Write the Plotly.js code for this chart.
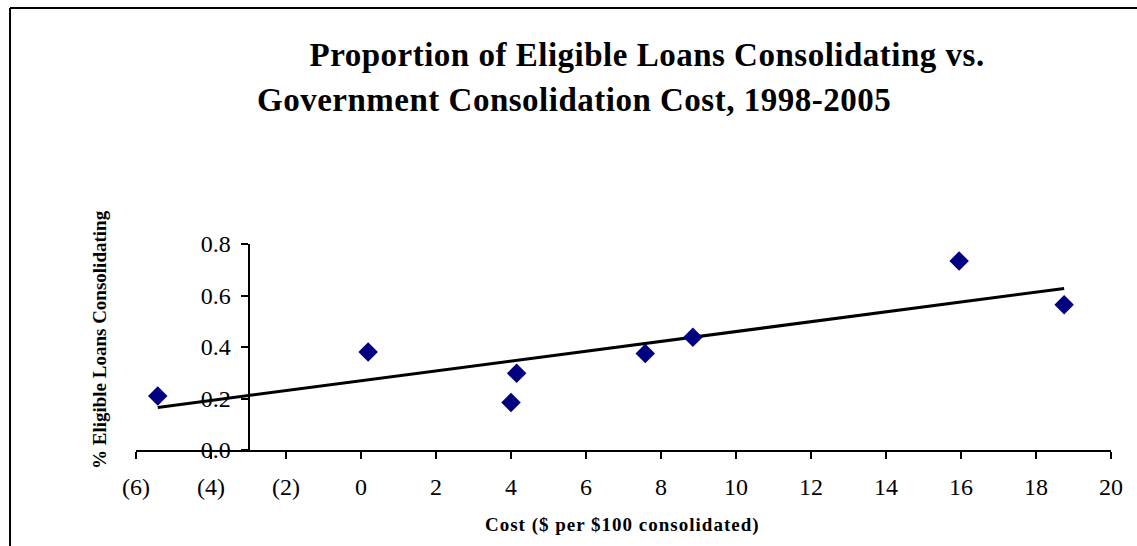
<!DOCTYPE html>
<html>
<head>
<meta charset="utf-8">
<script src="https://cdn.plot.ly/plotly-3.0.1.min.js"></script>
<style>
html,body{margin:0;padding:0;background:#fff;}
#chart{width:1137px;height:546px;}
g.annotation[data-index="0"] text, g.annotation[data-index="1"] text {letter-spacing:0.5px;}
g.annotation[data-index="2"] text {letter-spacing:1px;}
</style>
</head>
<body>
<div id="chart"></div>
<script>
// Data
const costPer100 = [-5.42, 0.19, 4.00, 4.15, 7.58, 8.85, 15.95, 18.75];
const shareConsolidating = [0.21, 0.381, 0.184, 0.298, 0.375, 0.438, 0.734, 0.564];
const xTickVals = [-6, -4, -2, 0, 2, 4, 6, 8, 10, 12, 14, 16, 18, 20];
const xTickText = ["(6)", "(4)", "(2)", "0", "2", "4", "6", "8", "10", "12", "14", "16", "18", "20"];
const yTickVals = [0, 0.2, 0.4, 0.6, 0.8];
const yTickText = ["0.0", "0.2", "0.4", "0.6", "0.8"];
const titleLine1 = "Proportion of Eligible Loans Consolidating vs.";
const titleLine2 = "Government Consolidation Cost, 1998-2005";
const xTitle = "Cost ($ per $100 consolidated)";
const yTitle = "% Eligible Loans Consolidating";

// Linear trend (least squares) from the data
const n = costPer100.length;
const mx = costPer100.reduce((a, b) => a + b, 0) / n;
const my = shareConsolidating.reduce((a, b) => a + b, 0) / n;
let sxy = 0, sxx = 0;
for (let i = 0; i < n; i++) {
  sxy += (costPer100[i] - mx) * (shareConsolidating[i] - my);
  sxx += (costPer100[i] - mx) * (costPer100[i] - mx);
}
const slope = sxy / sxx;
const intercept = my - slope * mx;
const xMin = Math.min(...costPer100), xMax = Math.max(...costPer100);
const trendX = [xMin, xMax];
const trendY = trendX.map(v => intercept + slope * v);

const font = "Liberation Serif, Times New Roman, serif";

const traces = [
  {
    x: trendX, y: trendY, type: "scatter", mode: "lines",
    line: {color: "#000000", width: 3}, hoverinfo: "skip", showlegend: false
  },
  {
    x: costPer100, y: shareConsolidating, type: "scatter", mode: "markers",
    marker: {symbol: "diamond", size: 15, color: "#000080"}, showlegend: false
  }
];

const layout = {
  width: 1137, height: 546,
  margin: {l: 136, r: 26, t: 244, b: 96},
  paper_bgcolor: "#ffffff", plot_bgcolor: "#ffffff",
  font: {family: font, color: "#000000"},
  showlegend: false,
  xaxis: {
    range: [-6, 20], tickvals: xTickVals, ticktext: xTickText,
    showgrid: false, zeroline: false, showline: true, linecolor: "#000", linewidth: 2,
    ticks: "outside", ticklen: 7, tickwidth: 2, tickcolor: "#000",
    tickfont: {family: font, size: 24, color: "#000"}, ticklabelstandoff: 7,
    anchor: "y", fixedrange: true
  },
  yaxis: {
    range: [0, 0.8], tickvals: yTickVals, ticktext: yTickText,
    showgrid: false, zeroline: false, showline: true, linecolor: "#000", linewidth: 2,
    ticks: "outside", ticklen: 7, tickwidth: 2, tickcolor: "#000",
    tickfont: {family: font, size: 24, color: "#000"}, ticklabelstandoff: 5,
    anchor: "free", position: 3 / 26, fixedrange: true
  },
  annotations: [
    {text: "<b>" + titleLine1 + "</b>", xref: "paper", yref: "paper", x: 0.524, y: 1.917,
     xanchor: "center", yanchor: "middle", showarrow: false, font: {family: font, size: 33, color: "#000"}},
    {text: "<b>" + titleLine2 + "</b>", xref: "paper", yref: "paper", x: 0.449, y: 1.699,
     xanchor: "center", yanchor: "middle", showarrow: false, font: {family: font, size: 33, color: "#000"}},
    {text: "<b>" + xTitle + "</b>", xref: "paper", yref: "paper", x: 0.4985, y: -0.364,
     xanchor: "center", yanchor: "middle", showarrow: false, font: {family: font, size: 19, color: "#000"}},
    {text: "<b>" + yTitle + "</b>", xref: "paper", yref: "paper", x: -0.0369, y: 0.534,
     xanchor: "center", yanchor: "middle", textangle: -90, showarrow: false, font: {family: font, size: 19, color: "#000"}}
  ],
  shapes: [
    {type: "line", xref: "paper", yref: "paper", x0: -0.1292, x1: -0.1292, y0: 2.1456, y1: -0.6,
     line: {color: "#000", width: 2}},
    {type: "line", xref: "paper", yref: "paper", x0: -0.1292, x1: 1.1, y0: 2.1456, y1: 2.1456,
     line: {color: "#000", width: 2}}
  ]
};

Plotly.newPlot("chart", traces, layout, {displayModeBar: false, staticPlot: true});
</script>
</body>
</html>
